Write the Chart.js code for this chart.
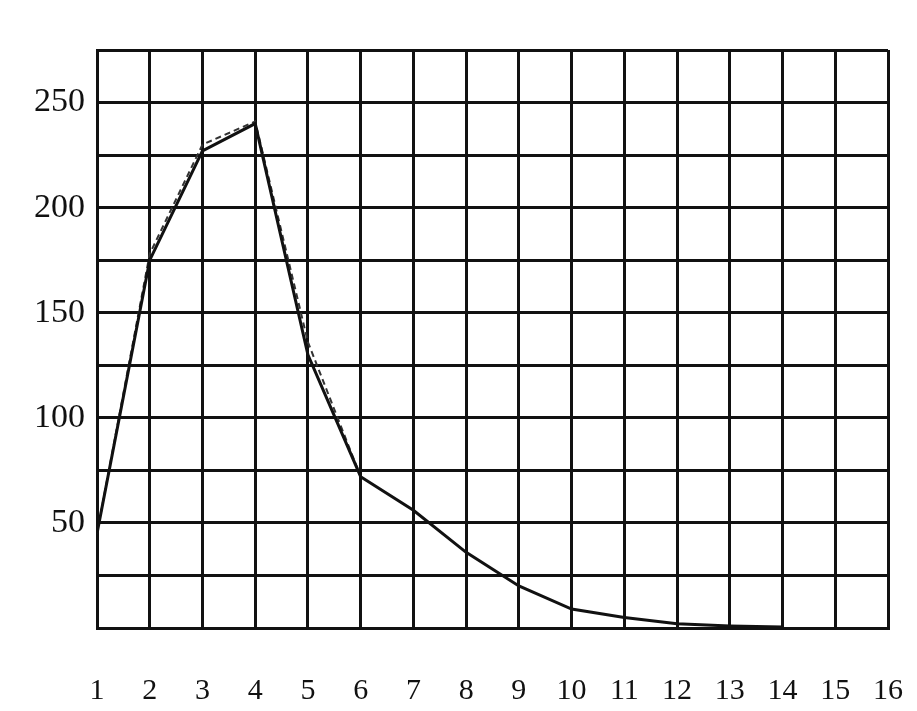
<!DOCTYPE html>
<html>
<head>
<script src="https://cdn.jsdelivr.net/npm/chart.js@4"></script>
<style>body{margin:0;background:#fff}</style>
</head>
<body>
<canvas id="c" width="917" height="711"></canvas>
<script>
// values
const days = [1, 2, 3, 4, 5, 6, 7, 8, 9, 10, 11, 12, 13, 14];
const observed = [45, 175, 227, 240, 130, 72, 56, 36, 20, 9, 5, 2, 1, 0.5];
const computed = [45, 178, 230, 241, 136, 72];
const yLabels = [50, 100, 150, 200, 250];

const pts = (xs, ys) => ys.map((y, i) => ({ x: xs[i], y: y }));

new Chart(document.getElementById('c').getContext('2d'), {
    type: 'line',
    data: {
        datasets: [
            { data: pts(days, observed), borderColor: '#111', borderWidth: 3, pointRadius: 0, tension: 0 },
            { data: pts(days, computed), borderColor: '#333', borderWidth: 2, borderDash: [6, 4], pointRadius: 0, tension: 0 }
        ]
    },
    options: {
        responsive: false,
        animation: false,
        layout: { padding: { top: 50, right: 0, left: 0, bottom: 0 } },
        plugins: { legend: { display: false }, tooltip: { enabled: false } },
        scales: {
            x: {
                type: 'linear', min: 1, max: 16,
                ticks: { stepSize: 1, color: '#111', padding: 45, font: { family: 'Liberation Serif', size: 30 } },
                grid: { color: '#111', lineWidth: 3, drawTicks: false },
                border: { color: '#111', width: 3 },
                afterFit: s => { s.height = 83; s.paddingRight = 29; }
            },
            y: {
                min: 0, max: 275,
                ticks: {
                    stepSize: 25, color: '#111', padding: 12,
                    font: { family: 'Liberation Serif', size: 34 },
                    callback: v => yLabels.includes(v) ? v : ''
                },
                grid: { color: '#111', lineWidth: 3, drawTicks: false },
                border: { color: '#111', width: 3 },
                afterFit: s => { s.width = 97; }
            }
        }
    }
});
</script>
</body>
</html>
